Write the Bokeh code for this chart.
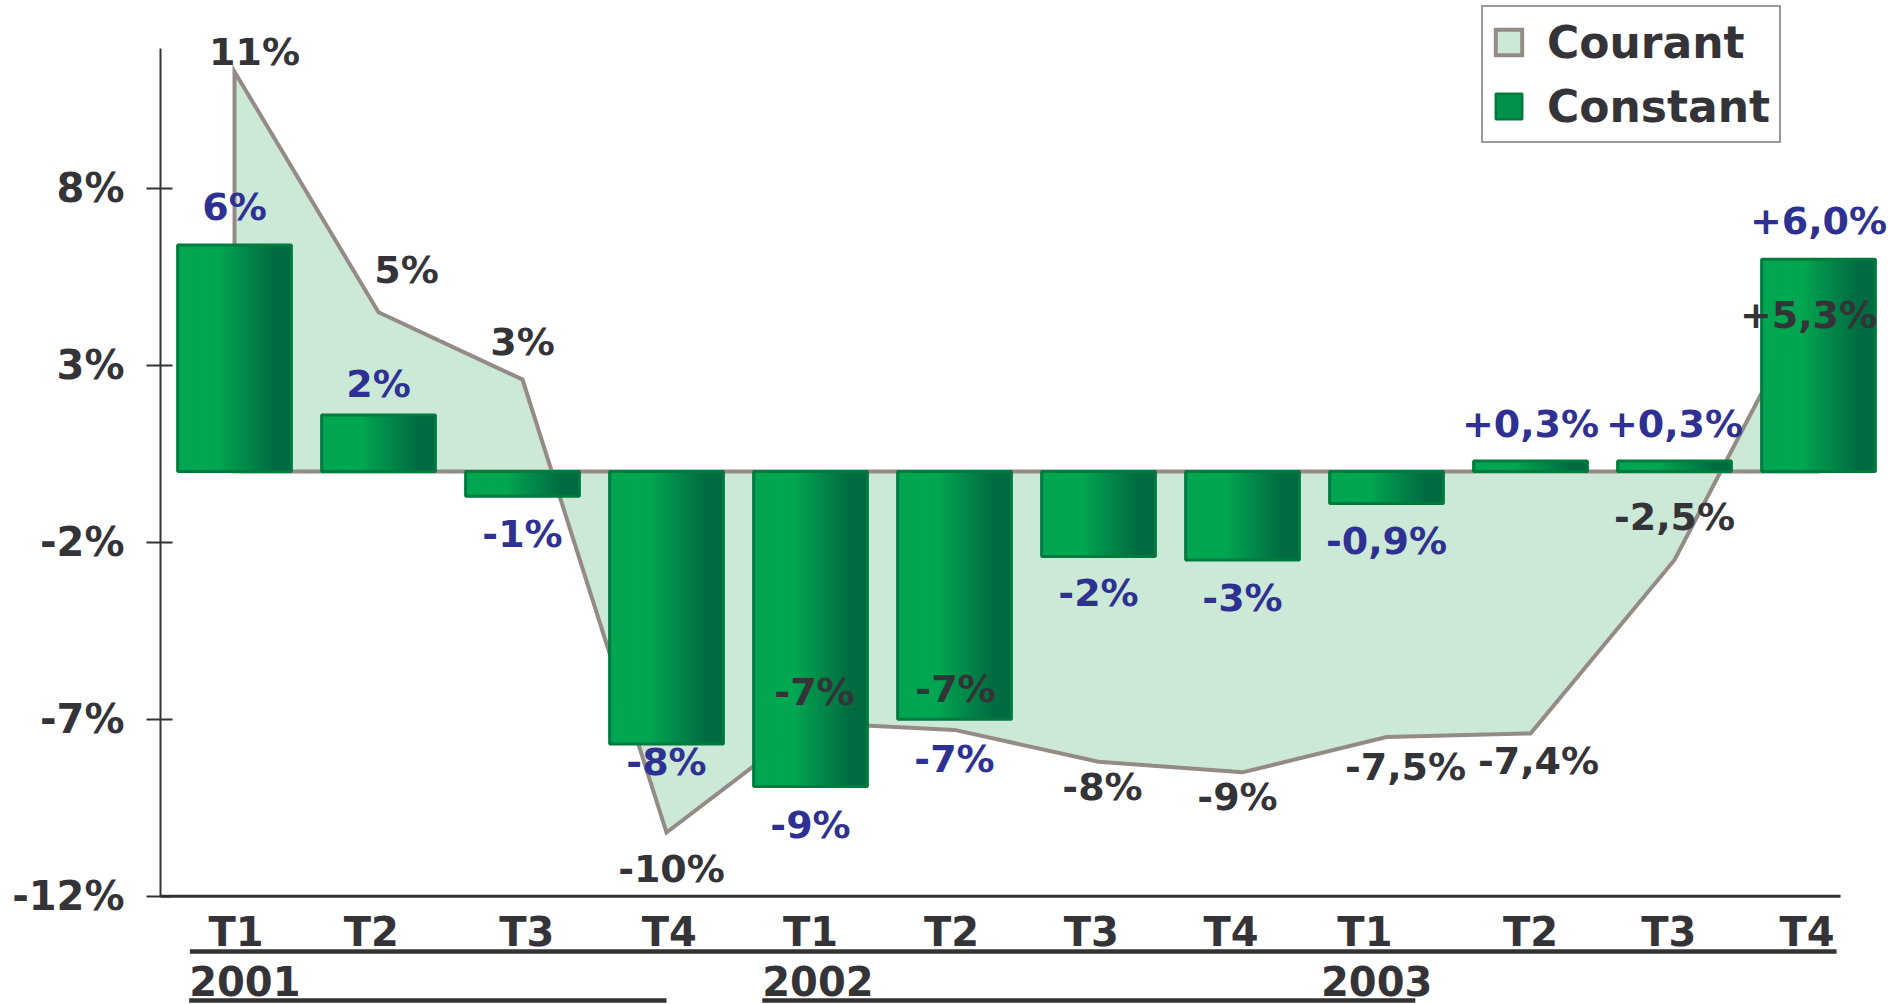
from bokeh.plotting import figure
from bokeh.models import (Range1d, LinearAxis, FixedTicker, PrintfTickFormatter,
                          ColumnDataSource, Legend, LegendItem)
from bokeh.core.properties import value
from bokeh.embed import file_html
from bokeh.resources import INLINE

# ---------------- data ----------------
quarters = ["T1", "T2", "T3", "T4", "T1", "T2", "T3", "T4", "T1", "T2", "T3", "T4"]
years = ["2001", "2002", "2003"]
year_first_quarter = [1, 5, 9]
courant = [11.3, 4.5, 2.6, -10.2, -7.1, -7.3, -8.2, -8.5, -7.5, -7.4, -2.5, 5.3]
courant_labels = ["11%", "5%", "3%", "-10%", "-7%", "-7%", "-8%", "-9%",
                  "-7,5%", "-7,4%", "-2,5%", "+5,3%"]
constant = [6.4, 1.6, -0.7, -7.7, -8.9, -7.0, -2.4, -2.5, -0.9, 0.3, 0.3, 6.0]
constant_labels = ["6%", "2%", "-1%", "-8%", "-9%", "-7%", "-2%", "-3%",
                   "-0,9%", "+0,3%", "+0,3%", "+6,0%"]
y_ticks = [-12, -7, -2, 3, 8]

# ---------------- style / layout ----------------
FONT = value("DejaVu Sans")
DARK = "#333338"
BLUE = "#2e3192"
AREA_FILL = "#cce8d7"
AREA_LINE = "#958b86"
GREEN_L = (0x00, 0xa6, 0x51)
GREEN_D = (0x00, 0x6b, 0x40)
BAR_EDGE = "#007a3d"
BAR_W = 0.79
N_STRIPS = 24

# label pixel nudges (style)
courant_dx = [20, 28, 0, 5, 4, 1, 4, -5, 19, 8, 0, -10]
courant_dy = [-20, -42, -38, 36, -31, -41, 25, 25, 30, 28, -43, 31]
constant_dy = [-38, -31, 38, 18, 38, 40, 37, 38, 38, -37, -37, -38]
year_nudge = [0.08, 0.06, -0.06]
quarter_nudge = [0.01, -0.05, 0.03, 0.02, 0.0, -0.02, -0.05, -0.08, -0.15, 0.0, -0.04, -0.08]

x = list(range(1, len(quarters) + 1))
y_lo, y_hi = -15.06, 13.31
x_lo, x_hi = 0.486, 12.486
axis_top = 11.94
x_axis_end = 12.153

p = figure(width=1888, height=1004, x_range=Range1d(x_lo, x_hi),
           y_range=Range1d(y_lo, y_hi), toolbar_location=None,
           output_backend="svg", x_axis_type=None, y_axis_type=None,
           min_border_left=160, min_border_right=0, min_border_top=0,
           min_border_bottom=0)
p.outline_line_color = None
p.grid.visible = False
p.background_fill_color = "white"
p.border_fill_color = "white"

yaxis = LinearAxis(ticker=FixedTicker(ticks=y_ticks),
                   formatter=PrintfTickFormatter(format="%d%%"),
                   bounds=(y_ticks[0], axis_top))
yaxis.axis_line_color = "#333333"
yaxis.axis_line_width = 2
yaxis.major_tick_line_color = "#333333"
yaxis.major_tick_line_width = 2
yaxis.major_tick_out = 14
yaxis.major_tick_in = 12
yaxis.minor_tick_line_color = None
yaxis.major_label_standoff = 22
yaxis.major_label_text_font = "DejaVu Sans"
yaxis.major_label_text_font_style = "bold"
yaxis.major_label_text_font_size = "40px"
yaxis.major_label_text_color = DARK
p.add_layout(yaxis, "left")

# bottom axis line at the lowest tick
p.segment(x0=[x_lo], y0=[y_ticks[0]], x1=[x_axis_end], y1=[y_ticks[0]],
          line_color="#333333", line_width=3)

# ---------------- area (courant) ----------------
area_x = [x[0]] + x + [x[-1]]
area_y = [0] + courant + [0]
area = p.patch(area_x, area_y, fill_color=AREA_FILL, line_color=AREA_LINE,
               line_width=4, line_join="miter")

# ---------------- bars (constant) with horizontal gradient ----------------
def mix(t):
    r = round(GREEN_L[0] + (GREEN_D[0] - GREEN_L[0]) * t)
    g = round(GREEN_L[1] + (GREEN_D[1] - GREEN_L[1]) * t)
    b = round(GREEN_L[2] + (GREEN_D[2] - GREEN_L[2]) * t)
    return "#%02x%02x%02x" % (r, g, b)

sl, sr, st, sb, sc = [], [], [], [], []
for xi, v in zip(x, constant):
    left0 = xi - BAR_W / 2
    for k in range(N_STRIPS):
        s = (k + 0.5) / N_STRIPS
        t = min(max((s - 0.35) / 0.5, 0.0), 1.0)
        sl.append(left0 + k * BAR_W / N_STRIPS)
        sr.append(left0 + (k + 1) * BAR_W / N_STRIPS)
        st.append(max(v, 0))
        sb.append(min(v, 0))
        sc.append(mix(t))
p.quad(left=sl, right=sr, top=st, bottom=sb, fill_color=sc, line_color=sc,
       line_width=1)
p.vbar(x=x, top=[max(v, 0) for v in constant], bottom=[min(v, 0) for v in constant],
       width=BAR_W, fill_color=None, line_color=BAR_EDGE, line_width=3)

# legend proxy for bars (kept outside the visible range)
proxy = p.vbar(x=[x_lo - 5], top=[0], width=BAR_W, fill_color="#00914a",
               line_color=BAR_EDGE, line_width=2.5)

# ---------------- data labels ----------------
src_c = ColumnDataSource(dict(x=x, y=courant, t=courant_labels,
                              dx=courant_dx, dy=courant_dy))
p.text(x="x", y="y", text="t", source=src_c, x_offset="dx", y_offset="dy",
       text_font=FONT, text_font_style="bold", text_font_size="38px",
       text_color=DARK, text_align="center", text_baseline="middle")

src_k = ColumnDataSource(dict(x=x, y=constant, t=constant_labels, dy=constant_dy))
p.text(x="x", y="y", text="t", source=src_k, y_offset="dy",
       text_font=FONT, text_font_style="bold", text_font_size="38px",
       text_color=BLUE, text_align="center", text_baseline="middle")

# ---------------- category labels ----------------
q_y = -13.0
q_x = [xi + n for xi, n in zip(x, quarter_nudge)]
p.text(x=q_x, y=[q_y] * len(x), text=quarters, text_font=FONT,
       text_font_style="bold", text_font_size="40px", text_color=DARK,
       text_align="center", text_baseline="middle")
p.segment(x0=[0.69], y0=[-13.56], x1=[12.125], y1=[-13.56],
          line_color="#333333", line_width=4.5)

yr_x = [q - BAR_W / 2 + n for q, n in zip(year_first_quarter, year_nudge)]
p.text(x=yr_x, y=[-14.41] * len(years), text=years, text_font=FONT,
       text_font_style="bold", text_font_size="40px", text_color=DARK,
       text_align="left", text_baseline="middle")
p.segment(x0=[yr_x[0], yr_x[1]], y0=[-14.95, -14.95], x1=[4.0, 9.2],
          y1=[-14.95, -14.95], line_color="#333333", line_width=4.5)

# ---------------- legend ----------------
legend = Legend(items=[LegendItem(label="Courant", renderers=[area]),
                       LegendItem(label="Constant", renderers=[proxy])],
                location=(1321, 861))
legend.label_text_font = "DejaVu Sans"
legend.label_text_font_style = "bold"
legend.label_text_font_size = "44px"
legend.label_text_color = DARK
legend.glyph_width = 33
legend.glyph_height = 32
legend.label_standoff = 22
legend.padding = 9
legend.spacing = 12
legend.label_height = 52
legend.margin = 0
legend.border_line_color = "#333333"
legend.border_line_width = 2
legend.background_fill_color = "white"
legend.background_fill_alpha = 1
p.add_layout(legend)

open("out.html", "w").write(file_html(p, INLINE))
